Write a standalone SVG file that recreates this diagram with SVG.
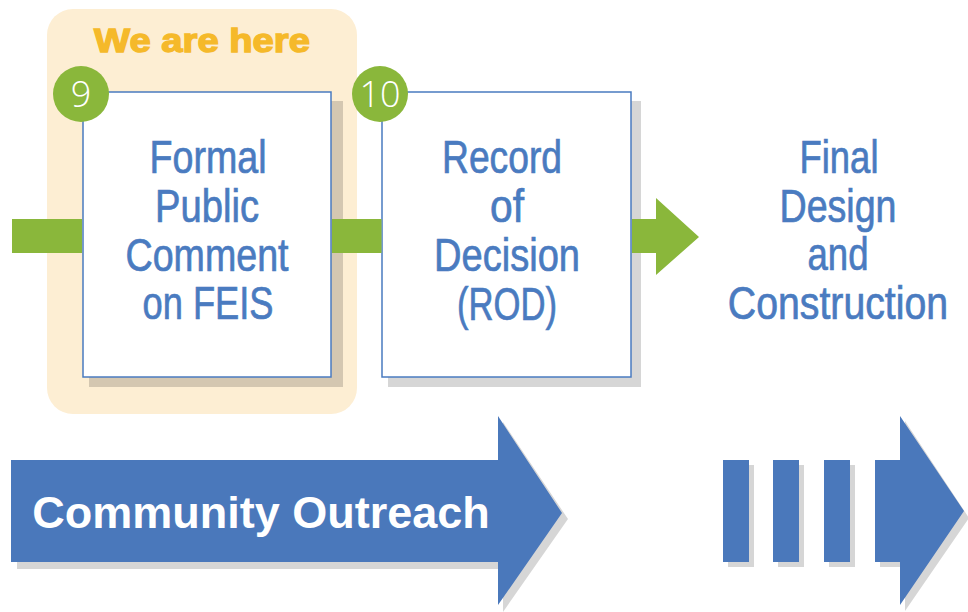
<svg xmlns="http://www.w3.org/2000/svg" width="968" height="612" viewBox="0 0 968 612">
<style>
.step{font-family:"Liberation Sans Narrow","Arial Narrow","Liberation Sans",sans-serif;font-size:46px;fill:#4a7bc0;stroke:#4a7bc0;stroke-width:0.7;text-anchor:middle}
.box{fill:#ffffff;stroke:#4a7bc0;stroke-width:1.5}
.shadow{fill:#000000;fill-opacity:0.16}
.green{fill:#8ab73b}
.blue{fill:#4a78bb}
.num{font-family:"Open Sans","Liberation Sans",sans-serif;font-weight:300;font-size:36px;fill:#ffffff;text-anchor:middle}
</style>
<rect id="highlight" x="47" y="9" width="310" height="405" rx="26" fill="#fdeed3"/>
<text x="202" y="52" font-family="'Liberation Sans',Arial,sans-serif" font-weight="bold" font-size="34" fill="#f5b92a" stroke="#f5b92a" stroke-width="1.4" text-anchor="middle" textLength="216" lengthAdjust="spacingAndGlyphs">We are here</text>
<g id="step9">
<rect class="shadow" x="89" y="101" width="254" height="286"/>
<rect class="box" x="83" y="92" width="248" height="285"/>
<text class="step" x="208" y="173" textLength="117" lengthAdjust="spacingAndGlyphs">Formal</text>
<text class="step" x="207" y="222" textLength="104" lengthAdjust="spacingAndGlyphs">Public</text>
<text class="step" x="207" y="271" textLength="163" lengthAdjust="spacingAndGlyphs">Comment</text>
<text class="step" x="208" y="319" textLength="131" lengthAdjust="spacingAndGlyphs">on FEIS</text>
</g>
<g id="step10">
<rect class="shadow" x="388" y="101" width="253" height="286"/>
<rect class="box" x="382" y="92" width="249" height="285"/>
<text class="step" x="502" y="173" textLength="120" lengthAdjust="spacingAndGlyphs">Record</text>
<text class="step" x="507" y="222" textLength="34" lengthAdjust="spacingAndGlyphs">of</text>
<text class="step" x="507" y="271" textLength="146" lengthAdjust="spacingAndGlyphs">Decision</text>
<text class="step" x="507" y="320" textLength="100" lengthAdjust="spacingAndGlyphs">(ROD)</text>
</g>
<g id="final">
<text class="step" x="839" y="173" textLength="79" lengthAdjust="spacingAndGlyphs">Final</text>
<text class="step" x="838" y="222" textLength="117" lengthAdjust="spacingAndGlyphs">Design</text>
<text class="step" x="838" y="270" textLength="61" lengthAdjust="spacingAndGlyphs">and</text>
<text class="step" x="0" y="0" transform="translate(838 319) scale(0.853 1)">Construction</text>
</g>
<g id="connectors">
<rect class="green" x="12" y="219" width="70" height="34"/>
<rect class="green" x="332" y="219" width="49.5" height="34"/>
<path class="green" d="M632 219 H656 V198 L699 237 L656 275 V253 H632 Z"/>
</g>
<g id="badge9">
<circle cx="81" cy="94" r="28" class="green"/>
<text class="num" x="81" y="107">9</text>
</g>
<g id="badge10">
<circle cx="380" cy="94" r="28" class="green"/>
<text class="num" x="380" y="107">10</text>
</g>
<g id="outreach">
<path class="shadow" d="M17 467 H503 V422 L568 519 L503 612 V569 H17 Z"/>
<path class="blue" d="M11 460 H498 V416 L562 513 L498 605 V562 H11 Z"/>
<text x="261" y="528" font-family="'Liberation Sans',Arial,sans-serif" font-weight="bold" font-size="45" fill="#ffffff" text-anchor="middle">Community Outreach</text>
</g>
<g id="continuation">
<rect class="shadow" x="728" y="465" width="26" height="102"/>
<rect class="shadow" x="778" y="465" width="26" height="102"/>
<rect class="shadow" x="829" y="465" width="26" height="102"/>
<path class="shadow" d="M880 465 H905 V421 L969 518 L905 611 V567 H880 Z"/>
<rect class="blue" x="723" y="460" width="26" height="102"/>
<rect class="blue" x="773" y="460" width="26" height="102"/>
<rect class="blue" x="824" y="460" width="26" height="102"/>
<path class="blue" d="M875 460 H900 V416 L964 511 L900 605 V562 H875 Z"/>
</g>
</svg>
